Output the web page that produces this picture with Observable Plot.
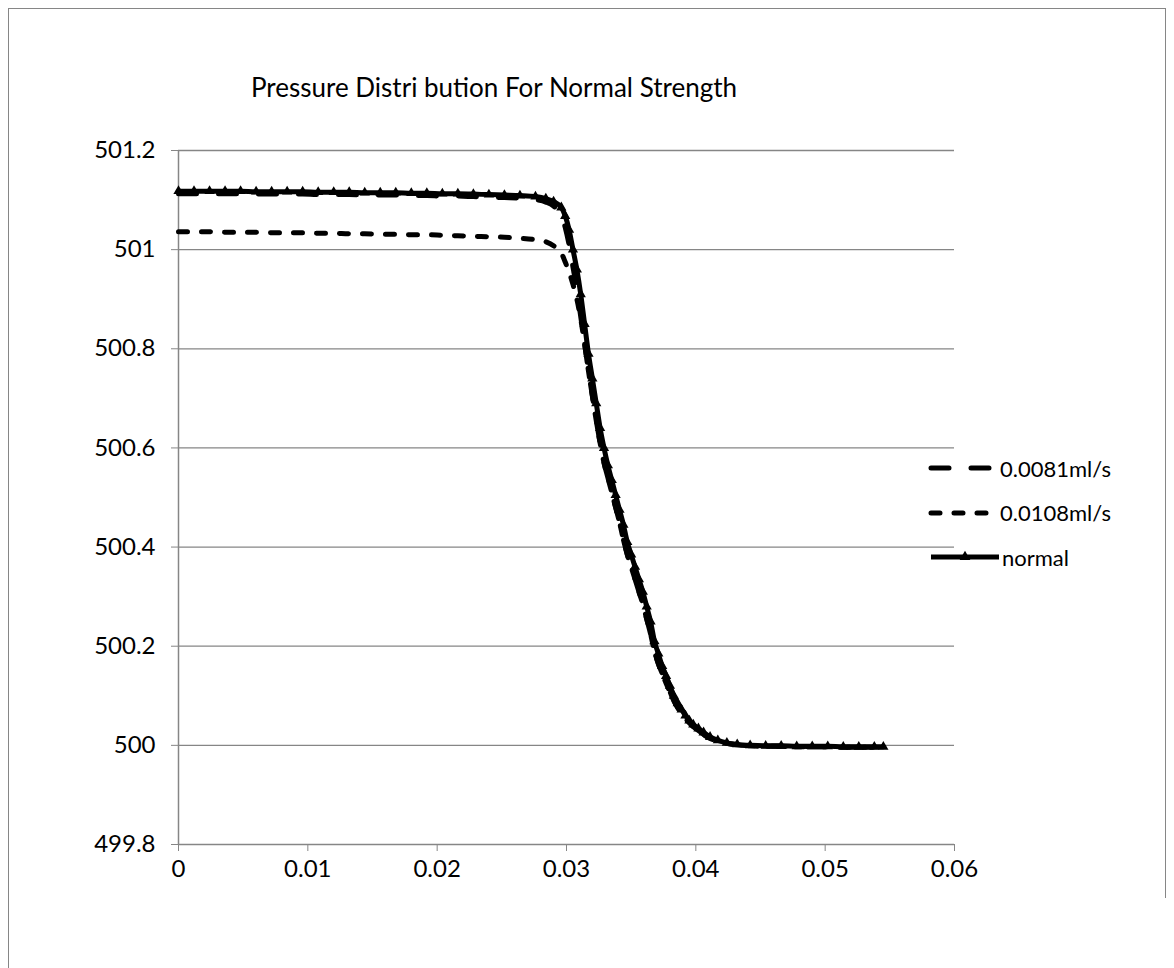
<!DOCTYPE html>
<html>
<head>
<meta charset="utf-8">
<script src="https://cdn.jsdelivr.net/npm/d3@7"></script>
<script src="https://cdn.jsdelivr.net/npm/@observablehq/plot@0.6"></script>
<style>
  html, body { margin: 0; padding: 0; background: #fff; }
  #page { position: relative; width: 1174px; height: 968px; overflow: hidden; font-family: Lato, "Open Sans", sans-serif; }
  #frameL { position: absolute; left: 8px; top: 8px; width: 1px; height: 960px; background: #868686; }
  #frameT { position: absolute; left: 8px; top: 8px; width: 1158px; height: 1px; background: #868686; }
  #frameR { position: absolute; left: 1165px; top: 8px; width: 1px; height: 890px; background: #868686; }
  #title { position: absolute; left: 0; top: 71px; width: 988px; text-align: center; font-size: 26px; color: #000; line-height: 32px; }
  #chart { position: absolute; left: 0; top: 120px; }
  #legend { position: absolute; left: 928px; top: 446px; }
  .lg { display: flex; align-items: center; height: 44.5px; font-size: 22px; color: #000; }
  .lg svg { margin-right: 6px; }
  .lg svg.solid { margin-right: 0px; }
</style>
</head>
<body>
<div id="page">
  <div id="frameL"></div><div id="frameT"></div><div id="frameR"></div>
  <div id="title"></div>
  <div id="chart"></div>
  <div id="legend"></div>
</div>
<script>
const titleText = "Pressure Distri bution For Normal Strength";
const seriesNames = ["0.0081ml/s", "0.0108ml/s", "normal"];

const xTicks = [0, 0.01, 0.02, 0.03, 0.04, 0.05, 0.06];
const xTickLabels = ["0", "0.01", "0.02", "0.03", "0.04", "0.05", "0.06"];
const yTicks = [499.8, 500, 500.2, 500.4, 500.6, 500.8, 501, 501.2];
const yTickLabels = ["499.8", "500", "500.2", "500.4", "500.6", "500.8", "501", "501.2"];

// position along the tube (shared by all three series)
const xs = [
  0, 0.0012, 0.0024, 0.0036, 0.0048, 0.006, 0.0072, 0.0084, 0.0096, 0.0108,
  0.012, 0.0132, 0.0144, 0.0156, 0.0168, 0.018, 0.0192, 0.0204, 0.0216, 0.0228,
  0.024, 0.0252, 0.0264, 0.0276, 0.0284, 0.029,
  0.0296, 0.0299, 0.0302, 0.0305, 0.0308, 0.0311, 0.0314, 0.0317, 0.032, 0.0323,
  0.0326, 0.0329, 0.0332, 0.0335, 0.0338, 0.0341, 0.0344, 0.0347, 0.035, 0.0353,
  0.0356, 0.0359, 0.0362, 0.0365, 0.0368, 0.0371, 0.0374, 0.0377, 0.038, 0.0383,
  0.0386, 0.0389, 0.0392, 0.0395, 0.0398,
  0.0402, 0.0406, 0.0411, 0.0417, 0.0424, 0.0432, 0.0442, 0.0454, 0.0466, 0.0478,
  0.049, 0.0502, 0.0514, 0.0526, 0.0538, 0.0545
];

const yNormal = [
  501.118, 501.118, 501.118, 501.118, 501.118, 501.117, 501.117, 501.117, 501.117, 501.116,
  501.116, 501.116, 501.115, 501.115, 501.115, 501.114, 501.114, 501.113, 501.113, 501.112,
  501.111, 501.110, 501.109, 501.107, 501.103, 501.097,
  501.085, 501.068, 501.04, 501.00, 500.96, 500.91, 500.85, 500.79, 500.74, 500.69,
  500.64, 500.60, 500.565, 500.535, 500.505, 500.475, 500.445, 500.41, 500.385, 500.36,
  500.335, 500.31, 500.28, 500.25, 500.21, 500.185, 500.16, 500.14, 500.12, 500.10,
  500.085, 500.072, 500.06, 500.05, 500.042,
  500.034, 500.026, 500.017, 500.010, 500.005, 500.002, 500.0, 499.999, 499.999, 499.998,
  499.998, 499.998, 499.997, 499.997, 499.997, 499.997
];

const y0081 = [
  501.113, 501.113, 501.113, 501.113, 501.113, 501.112, 501.112, 501.112, 501.112, 501.111,
  501.111, 501.111, 501.110, 501.110, 501.110, 501.109, 501.109, 501.108, 501.108, 501.107,
  501.106, 501.105, 501.104, 501.101, 501.096, 501.088,
  501.07, 501.045, 501.01, 500.965, 500.92, 500.865, 500.81, 500.755, 500.705, 500.655,
  500.61, 500.57, 500.54, 500.51, 500.48, 500.45, 500.415, 500.385, 500.36, 500.335,
  500.31, 500.285, 500.255, 500.225, 500.19, 500.165, 500.145, 500.125, 500.108, 500.09,
  500.076, 500.064, 500.054, 500.045, 500.038,
  500.03, 500.022, 500.014, 500.008, 500.004, 500.001, 499.999, 499.998, 499.998, 499.997,
  499.997, 499.997, 499.996, 499.996, 499.996, 499.996
];

const y0108 = [
  501.036, 501.036, 501.036, 501.035, 501.035, 501.035, 501.034, 501.034, 501.034, 501.033,
  501.033, 501.032, 501.032, 501.031, 501.031, 501.030, 501.030, 501.029, 501.028, 501.027,
  501.026, 501.025, 501.023, 501.02, 501.016, 501.008,
  500.993, 500.975, 500.955, 500.93, 500.90, 500.86, 500.81, 500.755, 500.705, 500.655,
  500.61, 500.57, 500.54, 500.51, 500.48, 500.45, 500.415, 500.385, 500.36, 500.335,
  500.31, 500.285, 500.255, 500.225, 500.19, 500.165, 500.145, 500.125, 500.108, 500.09,
  500.076, 500.064, 500.054, 500.045, 500.038,
  500.03, 500.022, 500.014, 500.008, 500.004, 500.001, 499.999, 499.998, 499.998, 499.997,
  499.997, 499.997, 499.996, 499.996, 499.996, 499.996
];

const rows = (ys) => xs.map((x, i) => ({x, y: ys[i]}));
const dNormal = rows(yNormal), d0081 = rows(y0081), d0108 = rows(y0108);

const dashLong = "18,22";
const dashShort = "9,14";
const gridColor = "#868686";

document.getElementById("title").textContent = titleText;

const chart = Plot.plot({
  width: 1174,
  height: 800,
  marginLeft: 178,
  marginRight: 220,
  marginTop: 30,
  marginBottom: 76,
  style: {fontFamily: "Lato, 'Open Sans', sans-serif", fontSize: "24px", color: "#000", background: "transparent"},
  x: {domain: [0, 0.06]},
  y: {domain: [499.8, 501.2]},
  marks: [
    Plot.gridY(yTicks.slice(1), {stroke: gridColor, strokeOpacity: 1, strokeWidth: 1.3}),
    Plot.ruleX([0], {stroke: gridColor, strokeWidth: 1.5}),
    Plot.ruleY([499.8], {stroke: gridColor, strokeWidth: 1.5}),
    Plot.axisY({ticks: yTicks, tickFormat: (d, i) => yTickLabels[i], tickSize: 7, tickPadding: 16,
      stroke: gridColor, fill: "#000", label: null, fontSize: 24}),
    Plot.axisX({ticks: xTicks, tickFormat: (d, i) => xTickLabels[i], tickSize: 7, tickPadding: 8,
      stroke: gridColor, fill: "#000", label: null, fontSize: 24}),
    Plot.line(d0081, {x: "x", y: "y", stroke: "#000", strokeWidth: 5, strokeDasharray: dashLong, strokeLinecap: "round", curve: "monotone-x"}),
    Plot.line(d0108, {x: "x", y: "y", stroke: "#000", strokeWidth: 5, strokeDasharray: dashShort, strokeLinecap: "round", curve: "monotone-x"}),
    Plot.line(dNormal, {x: "x", y: "y", stroke: "#000", strokeWidth: 5, curve: "monotone-x"}),
    Plot.dot(dNormal, {x: "x", y: "y", symbol: "triangle", r: 3.8, fill: "#000", stroke: "none"})
  ]
});
document.getElementById("chart").appendChild(chart);

// legend
const legend = d3.select("#legend");
const legendStyles = [
  {dash: dashLong, marker: false, w: 66},
  {dash: dashShort, marker: false, w: 66},
  {dash: null, marker: true, w: 74}
];
seriesNames.forEach((name, i) => {
  const st = legendStyles[i];
  const row = legend.append("div").attr("class", "lg");
  const svg = row.append("svg").attr("width", st.w).attr("height", 16).attr("class", st.dash ? "dashed" : "solid");
  const ln = svg.append("line").attr("x1", 3).attr("x2", st.w - 3).attr("y1", 8).attr("y2", 8)
    .attr("stroke", "#000").attr("stroke-width", 5);
  if (st.dash) ln.attr("stroke-dasharray", st.dash).attr("stroke-linecap", "round");
  if (st.marker) svg.append("path").attr("d", d3.symbol(d3.symbolTriangle, 50)()).attr("transform", `translate(${st.w / 2},8)`).attr("fill", "#000");
  row.append("span").text(name);
});
</script>
</body>
</html>
